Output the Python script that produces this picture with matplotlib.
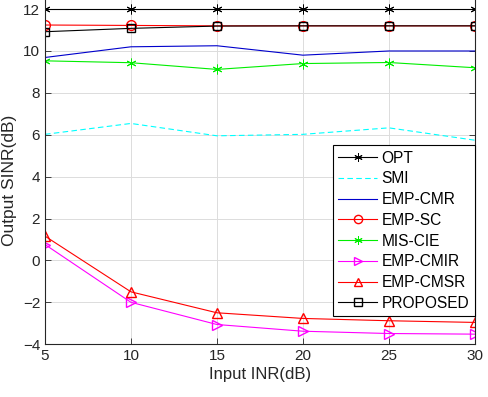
import matplotlib
matplotlib.use("Agg")
import matplotlib.pyplot as plt

plt.rcParams['font.family'] = ['Liberation Sans', 'DejaVu Sans']

inr = [5, 10, 15, 20, 25, 30]
opt = [12.0, 12.0, 12.0, 12.0, 12.0, 12.0]
smi = [6.02, 6.54, 5.95, 6.02, 6.33, 5.74]
emp_cmr = [9.69, 10.2, 10.25, 9.8, 10.0, 10.0]
emp_sc = [11.24, 11.22, 11.2, 11.2, 11.2, 11.2]
mis_cie = [9.53, 9.44, 9.12, 9.4, 9.45, 9.2]
emp_cmir = [0.76, -2.0, -3.06, -3.38, -3.49, -3.52]
emp_cmsr = [1.16, -1.5, -2.5, -2.77, -2.88, -2.96]
proposed = [10.92, 11.08, 11.19, 11.2, 11.2, 11.2]

xticks = [5, 10, 15, 20, 25, 30]
yticks = [-4, -2, 0, 2, 4, 6, 8, 10, 12]

fig = plt.figure(figsize=(4.89, 3.97), dpi=100)
# axes extends past the top edge of the figure (reference is cropped there)
ax = fig.add_axes([0.092, 0.133, 0.879, 0.9496])

lw = 0.8
ms = 7
ast = (6, 2, 0)
ax.plot(inr, opt, color='black', marker=ast, ms=ms, lw=lw, label='OPT', markeredgewidth=0.7)
ax.plot(inr, smi, color='cyan', ls='--', lw=lw, label='SMI', dashes=(5, 3))
ax.plot(inr, emp_cmr, color='#0000cc', lw=lw, label='EMP-CMR')
ax.plot(inr, emp_sc, color='red', marker='o', mfc='none', ms=ms, lw=lw, label='EMP-SC')
ax.plot(inr, mis_cie, color='#00ee00', marker=ast, ms=ms, lw=lw, label='MIS-CIE', markeredgewidth=0.7)
ax.plot(inr, emp_cmir, color='magenta', marker='>', mfc='none', ms=ms, lw=lw, label='EMP-CMIR')
ax.plot(inr, emp_cmsr, color='red', marker='^', mfc='none', ms=ms, lw=lw, label='EMP-CMSR')
ax.plot(inr, proposed, color='black', marker='s', mfc='none', ms=6, lw=lw, label='PROPOSED')

ax.set_xlim(5, 30)
ax.set_ylim(-4, 14)
ax.set_xticks(xticks)
ax.set_yticks(yticks)
ax.tick_params(direction='in', top=True, right=True, labelsize=11, length=4, width=0.6, colors='#262626')
ax.grid(True, color='#dcdcdc', lw=0.7)
ax.set_axisbelow(True)
for s in ax.spines.values():
    s.set_color('#262626')
    s.set_linewidth(0.8)

ax.set_xlabel('Input INR(dB)', fontsize=12, color='#262626', labelpad=3)
ax.set_ylabel('Output SINR(dB)', fontsize=12.5, color='#262626')
ax.yaxis.set_label_coords((17 - 45) / 430.0, (344 - 180) / 377.0, transform=ax.transAxes)

leg = ax.legend(loc='upper right', bbox_to_anchor=(1.0, (344 - 145) / 377.0), fontsize=11.2, frameon=True,
                fancybox=False, edgecolor='black', framealpha=1, handlelength=2.5,
                borderpad=0.35, labelspacing=0.37, handletextpad=0.3, borderaxespad=0,
                markerscale=0.85)
leg.get_frame().set_linewidth(0.8)

fig.savefig('out.png', dpi=100)
